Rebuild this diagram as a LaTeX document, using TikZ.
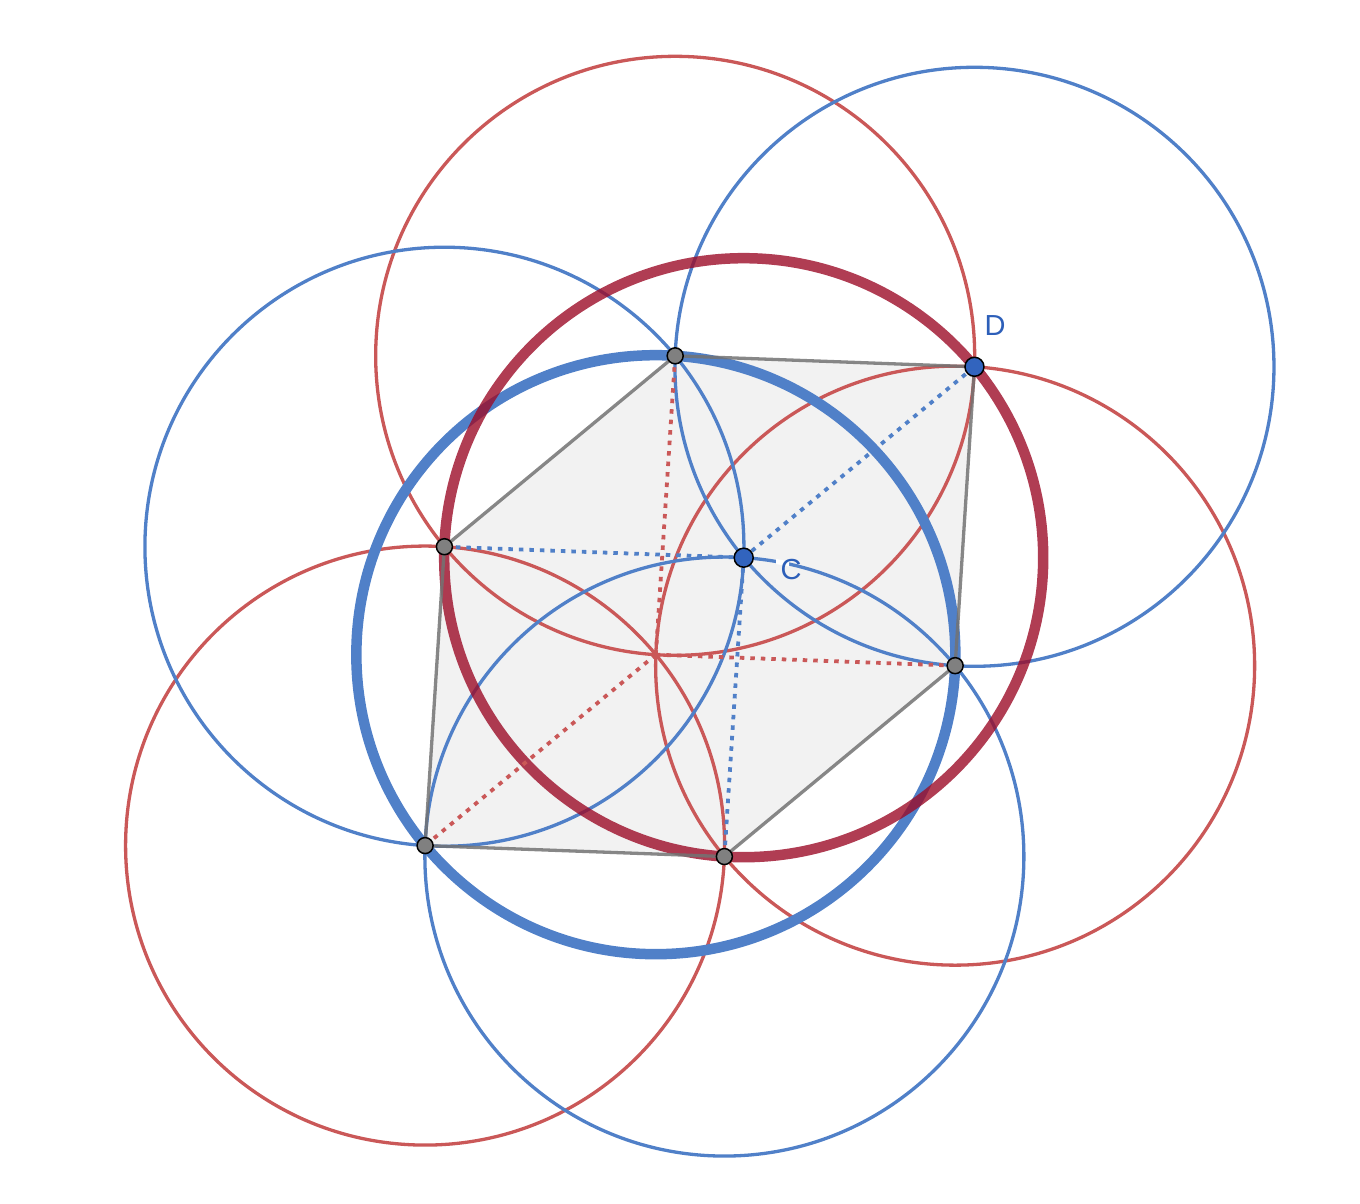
\documentclass[tikz,border=0pt]{standalone}
\usepackage{fontspec}
\setmainfont{Liberation Sans}
\usetikzlibrary{calc}
\definecolor{thinblue}{RGB}{80,128,200}
\definecolor{thinred}{RGB}{202,88,88}
\definecolor{thickred}{RGB}{156,12,40}
\definecolor{ptblue}{RGB}{50,100,190}
\definecolor{lblblue}{RGB}{45,95,185}
\definecolor{hexfill}{RGB}{242,242,242}
\definecolor{edgegray}{RGB}{115,115,115}
\definecolor{ptgray}{RGB}{128,128,128}
\begin{document}
\begin{tikzpicture}[x=1pt,y=1pt,
  thinb/.style={draw=thinblue,line width=3.3pt},
  thinr/.style={draw=thinred,line width=3.3pt},
  thickb/.style={draw=thinblue,line width=10.5pt},
  thickr/.style={draw=thickred,draw opacity=0.8,line width=10.5pt},
  edge/.style={draw=edgegray,draw opacity=0.85,line width=3.3pt},
  bdot/.style={draw=thinblue,line width=3.8pt,dash pattern=on 4.5pt off 6pt},
  rdot/.style={draw=thinred,line width=3.8pt,dash pattern=on 4.5pt off 6pt},
  gpt/.style={circle,fill=ptgray,draw=black,line width=1.5pt,minimum size=16pt,inner sep=0pt},
  bpt/.style={circle,fill=ptblue,draw=black,line width=1.5pt,minimum size=19pt,inner sep=0pt},
  lbl/.style={text=lblblue,inner sep=0pt,font=\fontsize{29}{34}\selectfont}
]
\useasboundingbox (0,0) rectangle (1360,1204);
\def\R{299.5}
\coordinate (C) at (743.7,646.3);
\coordinate (D) at ($(C)+(39.6:\R)$);
\coordinate (F) at ($(C)+(177.9:\R)$);
\coordinate (E) at ($(C)+(266.3:\R)$);
\coordinate (A) at ($(D)+(F)-(C)$);
\coordinate (B) at ($(D)+(E)-(C)$);
\coordinate (G) at ($(F)+(E)-(C)$);
\coordinate (O) at ($(D)+(F)+(E)-2*(C)$);
% hexagon fill
\fill[hexfill] (A) -- (D) -- (B) -- (E) -- (G) -- (F) -- cycle;
% thin circles
\draw[thinr] (A) circle[radius=\R];
\draw[thinr] (B) circle[radius=\R];
\draw[thinr] (G) circle[radius=\R];
\draw[thinb] (D) circle[radius=\R];
\draw[thinb] (F) circle[radius=\R];
\draw[thinb] (E) circle[radius=\R];
% thick circles
\draw[thickb] (O) circle[radius=\R];
\draw[thickr] (C) circle[radius=\R];
% edges
\draw[edge] (A) -- (D) -- (B) -- (E) -- (G) -- (F) -- cycle;
% dotted radii
\draw[bdot] (C) -- (D);
\draw[bdot] (C) -- (F);
\draw[bdot] (C) -- (E);
\draw[rdot] (O) -- (A);
\draw[rdot] (O) -- (B);
\draw[rdot] (O) -- (G);
% points
\node[gpt] (pA) at (A) {};
\node[gpt] (pB) at (B) {};
\node[gpt] (pE) at (E) {};
\node[gpt] (pG) at (G) {};
\node[gpt] (pF) at (F) {};
\node[bpt] (pD) at (D) {};
\node[bpt] (pC) at (C) {};
% white halo where the arc crosses the label C
\begin{scope}
  \clip (776,615) rectangle (789,655);
  \draw[white,line width=5pt] (E) circle[radius=\R];
\end{scope}
% labels
\node[lbl] (lD) at (995,878) {D};
\node[lbl] (lC) at (791,634) {C};
\end{tikzpicture}
\end{document}
